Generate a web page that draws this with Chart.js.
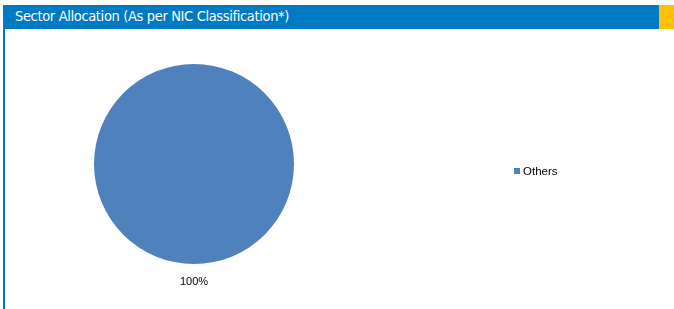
<!DOCTYPE html>
<html>
<head>
<meta charset="utf-8">
<script src="https://cdn.jsdelivr.net/npm/chart.js@4"></script>
<style>
  html,body{margin:0;padding:0;background:#fff;}
  #wrap{position:relative;width:674px;height:309px;overflow:hidden;}
  #head{position:absolute;left:3px;top:5px;width:656px;height:24px;background:#007AC3;}
  #head span{position:absolute;left:12px;top:3px;color:#fff;font-family:"Liberation Sans Narrow","DejaVu Sans Condensed",sans-serif;font-size:14.5px;letter-spacing:-0.35px;}
  #tab{position:absolute;left:659px;top:5px;width:15px;height:24px;background:#FFC000;}
  #side{position:absolute;left:3px;top:29px;width:2px;height:280px;background:#007AC3;}
  #box{position:absolute;left:5px;top:29px;width:669px;height:280px;}
</style>
</head>
<body>
<div id="wrap">
  <div id="head"><span>Sector Allocation (As per NIC Classification*)</span></div>
  <div id="tab"></div>
  <div id="side"></div>
  <div id="box"><canvas id="myChart"></canvas></div>
</div>
<script>
const sectors=['Others'];
const shares=[100];
const colors=['#4F81BD'];

const labelAndLegend={
  id:'labelAndLegend',
  afterDraw(chart){
    const ctx=chart.ctx;
    const arc=chart.getDatasetMeta(0).data[0];
    const sum=shares.reduce((a,b)=>a+b,0);
    ctx.save();
    ctx.font='11px "Liberation Sans", Arial, sans-serif';
    ctx.fillStyle='#000';
    ctx.textAlign='center';
    ctx.textBaseline='middle';
    // single slice: label sits under the pie
    ctx.fillText(Math.round(shares[0]*100/sum)+'%',arc.x,arc.y+arc.outerRadius+18);
    // legend
    ctx.textAlign='left';
    ctx.font='11.5px "Liberation Sans", Arial, sans-serif';
    sectors.forEach((s,i)=>{
      const y=142+i*14;
      ctx.fillStyle=colors[i];
      ctx.fillRect(509,y-3,6,6);
      ctx.fillStyle='#000';
      ctx.fillText(s,518,y+0.5);
    });
    ctx.restore();
  }
};

new Chart(document.getElementById('myChart').getContext('2d'),{
  type:'pie',
  data:{
    labels:sectors,
    datasets:[{data:shares,backgroundColor:colors,borderWidth:0}]
  },
  options:{
    responsive:true,
    maintainAspectRatio:false,
    animation:false,
    events:[],
    layout:{padding:{left:89,right:380,top:35,bottom:45}},
    plugins:{legend:{display:false},tooltip:{enabled:false}}
  },
  plugins:[labelAndLegend]
});
</script>
</body>
</html>
